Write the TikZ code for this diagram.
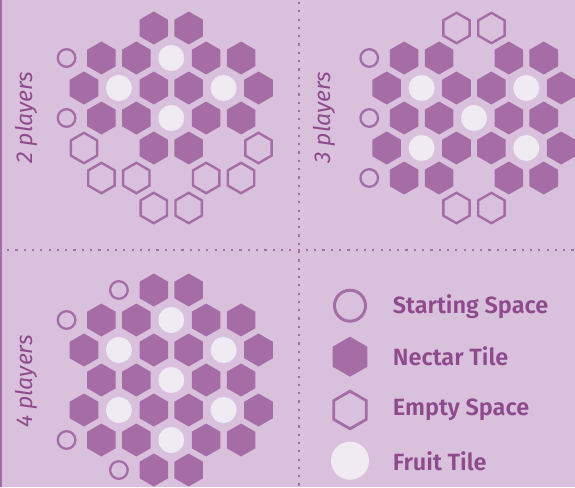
\documentclass[tikz,border=0pt]{standalone}
\usepackage{fontspec}
\setmainfont{Fira Sans}
\newfontfamily\legendfont{Fira Sans SemiBold}
\definecolor{bgcol}{RGB}{217,193,221}
\definecolor{nectarcol}{RGB}{165,108,166}
\definecolor{textcol}{RGB}{142,74,140}
\definecolor{fruitcol}{RGB}{240,234,243}
\tikzset{
  nectarhex/.pic={\fill[nectarcol] (90:16.5)--(150:16.5)--(210:16.5)--(270:16.5)--(330:16.5)--(30:16.5)--cycle;},
  emptyhex/.pic={\draw[nectarcol,line width=2.4pt,line join=miter] (90:15.2)--(150:15.2)--(210:15.2)--(270:15.2)--(330:15.2)--(30:15.2)--cycle;},
  fruittile/.pic={\fill[fruitcol] (0,0) circle (13);},
  startspace/.pic={\draw[nectarcol,line width=2.3pt] (0,0) circle (8.8);},
  bignectar/.pic={\fill[nectarcol] (90:20)--(150:20)--(210:20)--(270:20)--(330:20)--(30:20)--cycle;},
  bigempty/.pic={\draw[nectarcol,line width=2.8pt,line join=miter] (90:18.8)--(150:18.8)--(210:18.8)--(270:18.8)--(330:18.8)--(30:18.8)--cycle;},
  bigfruit/.pic={\fill[fruitcol] (0,0) circle (19);},
  bigstart/.pic={\draw[nectarcol,line width=3pt] (0,0) circle (15.5);},
  dotline/.style={nectarcol,line width=2.2pt,dash pattern=on 2.2pt off 6.1pt},
  playerlabel/.style={text=textcol,font=\fontsize{23}{25}\selectfont\itshape,rotate=90,inner sep=0pt},
  legendlabel/.style={text=textcol,font=\legendfont\fontsize{23.5}{25}\selectfont,anchor=west,inner sep=0pt},
}
\newcommand{\myboard}[3]{%
  \foreach \t/\c/\r in {#3} {\pic at ({#1+\c*17.45},{#2+\r*30}) {\t};}%
}
\begin{document}
\begin{tikzpicture}[x=1pt,y=-1pt]
\useasboundingbox (0,0) rectangle (575,487);
\fill[bgcol] (0,0) rectangle (575,487);
% frame lines
\draw[nectarcol,line width=2pt] (1,0) -- (1,487);
\draw[dotline] (7,250) -- (575,250);
\draw[dotline] (299.3,2) -- (299.3,487);
% 2 players
\myboard{84}{28}{nectarhex/4/0,nectarhex/6/0,
 startspace/-1/1,nectarhex/1/1,nectarhex/3/1,fruittile/5/1,nectarhex/7/1,nectarhex/9/1,
 nectarhex/0/2,fruittile/2/2,nectarhex/4/2,nectarhex/6/2,fruittile/8/2,nectarhex/10/2,
 startspace/-1/3,nectarhex/1/3,nectarhex/3/3,fruittile/5/3,nectarhex/7/3,nectarhex/9/3,
 emptyhex/0/4,nectarhex/4/4,nectarhex/6/4,emptyhex/10/4,
 emptyhex/1/5,emptyhex/3/5,emptyhex/7/5,emptyhex/9/5,
 emptyhex/4/6,emptyhex/6/6}
\node[playerlabel] (lab2) at (26.5,117.5) {2 players};
% 3 players
\myboard{386.7}{28}{emptyhex/4/0,emptyhex/6/0,
 startspace/-1/1,nectarhex/1/1,nectarhex/3/1,nectarhex/7/1,nectarhex/9/1,
 nectarhex/0/2,fruittile/2/2,nectarhex/4/2,nectarhex/6/2,fruittile/8/2,nectarhex/10/2,
 startspace/-1/3,nectarhex/1/3,nectarhex/3/3,fruittile/5/3,nectarhex/7/3,nectarhex/9/3,
 nectarhex/0/4,fruittile/2/4,nectarhex/4/4,nectarhex/6/4,fruittile/8/4,nectarhex/10/4,
 startspace/-1/5,nectarhex/1/5,nectarhex/3/5,nectarhex/7/5,nectarhex/9/5,
 emptyhex/4/6,emptyhex/6/6}
\node[playerlabel] (lab3) at (324,117.5) {3 players};
% 4 players
\myboard{84}{290}{startspace/2/0,nectarhex/4/0,nectarhex/6/0,
 startspace/-1/1,nectarhex/1/1,nectarhex/3/1,fruittile/5/1,nectarhex/7/1,nectarhex/9/1,
 nectarhex/0/2,fruittile/2/2,nectarhex/4/2,nectarhex/6/2,fruittile/8/2,nectarhex/10/2,
 nectarhex/1/3,nectarhex/3/3,fruittile/5/3,nectarhex/7/3,nectarhex/9/3,
 nectarhex/0/4,fruittile/2/4,nectarhex/4/4,nectarhex/6/4,fruittile/8/4,nectarhex/10/4,
 startspace/-1/5,nectarhex/1/5,nectarhex/3/5,fruittile/5/5,nectarhex/7/5,nectarhex/9/5,
 startspace/2/6,nectarhex/4/6,nectarhex/6/6}
\node[playerlabel] (lab4) at (26.5,381.5) {4 players};
% legend
\pic at (350,305.7) {bigstart};
\pic at (350,356.7) {bignectar};
\pic at (350,410) {bigempty};
\pic at (350,460.7) {bigfruit};
\node[legendlabel] (l1) at (392.7,307) {Starting Space};
\node[legendlabel] (l2) at (392.7,356.7) {Nectar Tile};
\node[legendlabel] (l3) at (392.7,410) {Empty Space};
\node[legendlabel] (l4) at (392.7,461.7) {Fruit Tile};
\end{tikzpicture}
\end{document}
